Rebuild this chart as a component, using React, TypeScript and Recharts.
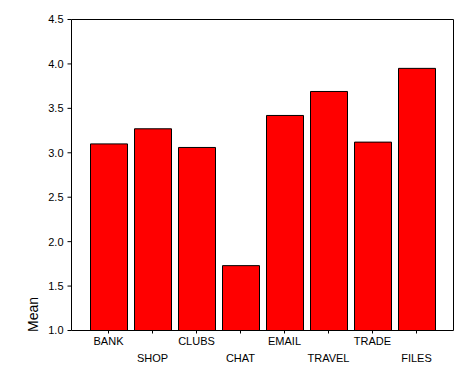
import React from 'react';
import { BarChart, Bar, XAxis, YAxis, ReferenceLine } from 'recharts';

const categories = ['BANK', 'SHOP', 'CLUBS', 'CHAT', 'EMAIL', 'TRAVEL', 'TRADE', 'FILES'];
const means = [3.1, 3.27, 3.06, 1.73, 3.42, 3.69, 3.12, 3.95];
const yTicks = [1.0, 1.5, 2.0, 2.5, 3.0, 3.5, 4.0, 4.5];

const data = categories.map((name, i) => ({ name, mean: means[i] }));

const FONT = '"Liberation Sans", Arial, sans-serif';

// SPSS staggers the category labels on two rows
const StaggeredTick = (props: any) => {
  const { x, y, payload, index } = props;
  const dy = index % 2 === 0 ? 11 : 28;
  return (
    <text x={x} y={y + dy} textAnchor="middle" fontSize={11} fontFamily={FONT} fill="#000">
      {payload.value}
    </text>
  );
};

const MeanLabel = (props: any) => {
  const { viewBox } = props;
  const bottom = viewBox.y + viewBox.height + 1.5;
  const x = viewBox.x + 38;
  return (
    <text
      x={x}
      y={bottom}
      transform={`rotate(-90 ${x} ${bottom})`}
      textAnchor="start"
      fontSize={14}
      fontFamily={FONT}
      fill="#000"
    >
      Mean
    </text>
  );
};

const App: React.FC = () => {
  return (
    <div style={{ position: 'absolute', left: 0, top: 0, width: 473, height: 379, background: '#fff' }}>
      <BarChart
        width={473}
        height={379}
        data={data}
        margin={{ top: 19.5, right: 18.5, bottom: 0, left: 0 }}
        barSize={37}
      >
        <XAxis
          dataKey="name"
          type="category"
          height={48.5}
          padding={{ left: 15, right: 15 }}
          axisLine={{ stroke: '#000' }}
          tickLine={{ stroke: '#000' }}
          tickSize={3}
          tickMargin={0}
          interval={0}
          tick={<StaggeredTick />}
        />
        <YAxis
          type="number"
          domain={[1, 4.5]}
          ticks={yTicks}
          width={71.5}
          axisLine={{ stroke: '#000' }}
          tickLine={{ stroke: '#000' }}
          tickSize={4}
          tickMargin={4}
          tickFormatter={(v: number) => v.toFixed(1)}
          tick={{ fill: '#000', fontSize: 11, fontFamily: FONT }}
          label={<MeanLabel />}
        />
        <YAxis
          yAxisId="right"
          orientation="right"
          width={1}
          type="number"
          domain={[1, 4.5]}
          ticks={yTicks}
          tick={false}
          tickLine={false}
          axisLine={{ stroke: '#000' }}
        />
        <ReferenceLine y={4.5} stroke="#000" strokeWidth={1} />
        <Bar dataKey="mean" fill="#ff0000" stroke="#000" strokeWidth={1} isAnimationActive={false} />
      </BarChart>
    </div>
  );
};

export default App;
